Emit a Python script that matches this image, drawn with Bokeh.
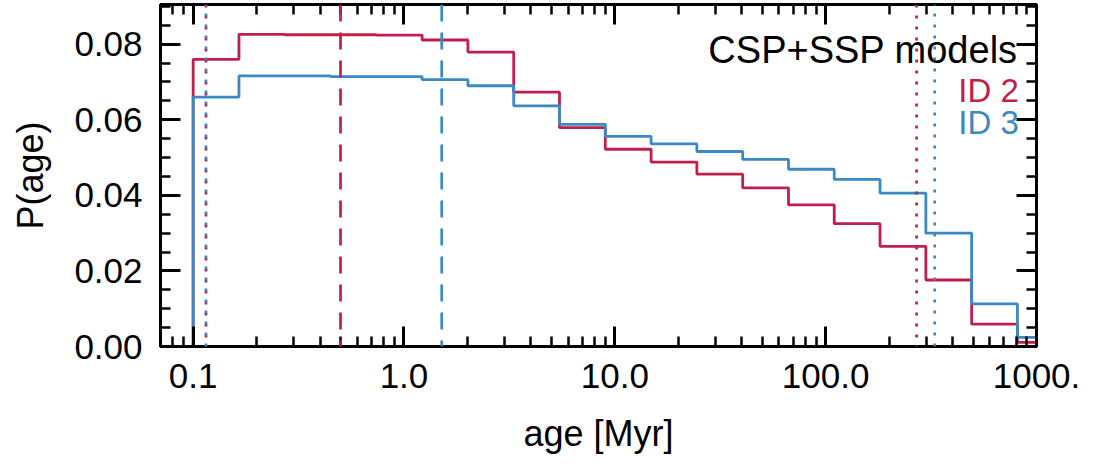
import numpy as np
from bokeh.plotting import figure
from bokeh.models import FixedTicker, LogAxis, LinearAxis, Span, Label, Range1d
from bokeh.embed import file_html
from bokeh.resources import INLINE

# ---------------- data ----------------
age_bin_edges = [0.1, 0.1649, 0.2719, 0.4483, 0.7392, 1.219, 2.010, 3.314, 5.465,
                 9.012, 14.86, 24.50, 40.41, 66.63, 109.8, 181.1, 298.7, 492.5,
                 812.1, 1339.0]
hist_start = 0.0897
p_age_id2 = [0.0760, 0.0826, 0.0825, 0.0825, 0.0824, 0.0811, 0.0779, 0.0673,
             0.0579, 0.0522, 0.0488, 0.0456, 0.0420, 0.0375, 0.0325, 0.0265,
             0.0176, 0.0059, 0.0011]
p_age_id3 = [0.0660, 0.0716, 0.0716, 0.0714, 0.0714, 0.0706, 0.0690, 0.0637,
             0.0588, 0.0556, 0.0536, 0.0516, 0.0495, 0.0469, 0.0442, 0.0406,
             0.0300, 0.0113, 0.0024]
series_names = ["ID 2", "ID 3"]
median_age = [0.50, 1.51]
low_age = [0.115, 0.115]
high_age = [270.0, 329.0]
legend_title = "CSP+SSP models"
xtick_values = [0.1, 1.0, 10.0, 100.0, 1000.0]
xtick_labels = ["0.1", "1.0", "10.0", "100.0", "1000."]
ytick_values = [0.0, 0.02, 0.04, 0.06, 0.08]
ytick_labels = ["0.00", "0.02", "0.04", "0.06", "0.08"]

RED = "#C01F4B"
BLUE = "#3A89C2"
colors = [RED, BLUE]
FONT = "Liberation Sans"

p = figure(width=1097, height=467, x_axis_type="log",
           x_range=Range1d(0.07, 1000), y_range=Range1d(0, 0.0905),
           output_backend="svg", toolbar_location=None,
           min_border_left=160, min_border_right=61,
           min_border_top=4, min_border_bottom=121)
p.xgrid.visible = False
p.ygrid.visible = False
p.outline_line_color = "black"
p.outline_line_width = 3
p.background_fill_color = "white"
p.border_fill_color = "white"

x_minor = [k * 10.0 ** d for d in range(-2, 4) for k in range(2, 10)]
y_minor = [float(v) for v in np.round(np.arange(0, 0.0905, 0.005), 4)]
xticker = FixedTicker(ticks=xtick_values, minor_ticks=x_minor)
yticker = FixedTicker(ticks=ytick_values, minor_ticks=y_minor)


def style_axis(ax, labels=True):
    ax.axis_line_color = "black"
    ax.axis_line_width = 3
    ax.major_tick_in = 20
    ax.major_tick_out = 0
    ax.minor_tick_in = 10
    ax.minor_tick_out = 0
    ax.major_tick_line_width = 3
    ax.minor_tick_line_width = 2.5
    ax.major_tick_line_color = "black"
    ax.minor_tick_line_color = "black"
    if labels:
        ax.major_label_text_font = FONT
        ax.major_label_text_font_size = "35px"
        ax.major_label_text_color = "black"
        ax.axis_label_text_font = FONT
        ax.axis_label_text_font_size = "36px"
        ax.axis_label_text_font_style = "normal"
        ax.axis_label_text_color = "black"
    else:
        ax.major_label_text_font_size = "1px"
        ax.major_label_text_alpha = 0
        ax.major_label_standoff = 0


xa = p.xaxis[0]
xa.ticker = xticker
xa.major_label_overrides = {v: l for v, l in zip(xtick_values, xtick_labels)}
xa.axis_label = "age [Myr]"
style_axis(xa)
xa.major_label_standoff = 17
xa.axis_label_standoff = 22

ya = p.yaxis[0]
ya.ticker = yticker
ya.major_label_overrides = {v: l for v, l in zip(ytick_values, ytick_labels)}
ya.axis_label = "P(age)"
style_axis(ya)
ya.major_label_standoff = 18
ya.axis_label_standoff = 20

top = LogAxis(ticker=xticker)
style_axis(top, labels=False)
p.add_layout(top, "above")
right = LinearAxis(ticker=yticker)
style_axis(right, labels=False)
p.add_layout(right, "right")

# histograms (step outlines)
for vals, col in zip([p_age_id2, p_age_id3], colors):
    xs = [hist_start] + age_bin_edges
    ys = [0.0] + vals + [vals[-1]]
    p.step(xs, ys, mode="after", line_color=col, line_width=2.8)

# vertical marker lines
for med, col in zip(median_age, colors):
    p.add_layout(Span(location=med, dimension="height", line_color=col,
                      line_width=2.7, line_dash="17 11"))
for i, (lo, hi, col) in enumerate(zip(low_age, high_age, colors)):
    for loc in (lo, hi):
        p.add_layout(Span(location=loc, dimension="height", line_color=col,
                          line_width=2.7, line_dash="3 8",
                          line_dash_offset=2 * i))

# legend-like texts
p.add_layout(Label(x=815, y=0.0785, text=legend_title, text_align="right",
                   text_baseline="alphabetic", text_font=FONT,
                   text_font_size="38px", text_color="black"))
for name, col, yy in zip(series_names, colors, [0.0678, 0.0593]):
    p.add_layout(Label(x=825, y=yy, text=name, text_align="right",
                       text_baseline="alphabetic", text_font=FONT,
                       text_font_size="33px", text_color=col))

open("out.html", "w").write(file_html(p, INLINE))
